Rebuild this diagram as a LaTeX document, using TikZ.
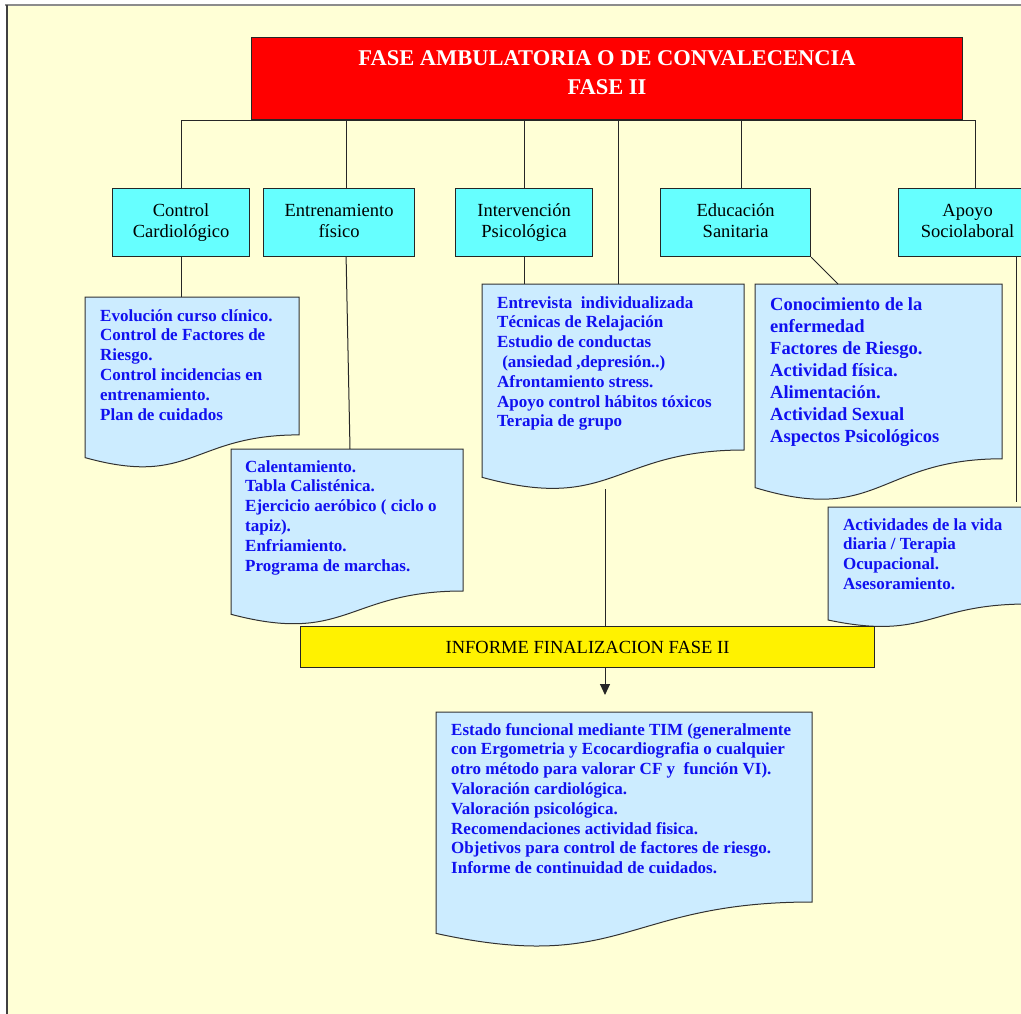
\documentclass[tikz,border=0pt]{standalone}
\usepackage{fontspec}
\setmainfont{Liberation Serif}
\usetikzlibrary{arrows.meta}
\definecolor{bgyel}{RGB}{255,255,214}
\definecolor{docblue}{RGB}{204,236,255}
\definecolor{cyanfill}{RGB}{102,255,255}
\definecolor{txtblue}{RGB}{16,16,240}
\definecolor{edgegray}{RGB}{50,50,50}
\tikzset{
  conn/.style={draw=black!85, line width=1pt},
  docshape/.style={fill=docblue, draw=edgegray, line width=1pt},
  frame/.style={inner sep=0pt, outer sep=0pt, draw=none, anchor=north west},
  doctext/.style={inner sep=0pt, anchor=north west, align=left, text=txtblue,
    font=\bfseries\fontsize{17}{19.8}\selectfont},
  cyanbox/.style={fill=cyanfill, draw=black!85, line width=1.2pt, inner sep=0pt,
    anchor=north west, minimum height=68pt, align=center,
    font=\fontsize{18.5}{21}\selectfont},
}
\begin{document}
\begin{tikzpicture}[x=1pt,y=-1pt]
\useasboundingbox (0,0) rectangle (1021,1014);
\clip (0,0) rectangle (1021,1014);
% page
\fill[white] (0,0) rectangle (1021,1014);
\fill[bgyel] (7,5) rectangle (1021,1014);
\draw[black!45, line width=1.5pt] (5,5) -- (1021,5);
\draw[black!75, line width=1.6pt] (7,5) -- (7,1014);

% title
\node[fill=red, draw=black!85, line width=1.4pt, inner sep=0pt, anchor=north west,
      minimum width=711pt, minimum height=82pt] (title) at (251,37) {};
\node[inner sep=0pt, anchor=north, align=center, text=white,
      font=\bfseries\fontsize{22.5}{29}\selectfont] (titletxt) at (607,50.6)
      {FASE AMBULATORIA O DE CONVALECENCIA\\FASE II};

% cyan boxes
\node[cyanbox, minimum width=137pt] (cc) at (112,188) {\strut Control\\Cardiológico\strut};
\node[cyanbox, minimum width=151pt] (ef) at (263,188) {\strut Entrenamiento\\físico\strut};
\node[cyanbox, minimum width=137pt] (ip) at (455,188) {\strut Intervención\\Psicológica\strut};
\node[cyanbox, minimum width=150pt] (es) at (660,188) {\strut Educación\\Sanitaria\strut};
\node[cyanbox, minimum width=138pt] (as) at (898,188) {\strut Apoyo\\Sociolaboral\strut};

% document shapes
\draw[docshape] (85,297) -- (299,297) -- (299,434.9) .. controls (192,434.9) and (192,487.5) .. (85,457.6) -- cycle;
\node[frame, minimum width=214pt, minimum height=138pt] (ccdoc) at (85,297) {};
\draw[docshape] (231,449) -- (463,449) -- (463,591) .. controls (347,591) and (347,645) .. (231,614.3) -- cycle;
\node[frame, minimum width=232pt, minimum height=142pt] (efdoc) at (231,449) {};
\draw[docshape] (482,284) -- (744,284) -- (744,450) .. controls (613,450) and (613,513.3) .. (482,477.3) -- cycle;
\node[frame, minimum width=262pt, minimum height=166pt] (ipdoc) at (482,284) {};
\draw[docshape] (755,284) -- (1002,284) -- (1002,458.8) .. controls (878.5,458.8) and (878.5,525.4) .. (755,487.6) -- cycle;
\node[frame, minimum width=247pt, minimum height=175pt] (esdoc) at (755,284) {};
\draw[docshape] (828,507) -- (1028,507) -- (1028,604) .. controls (928,604) and (928,641) .. (828,620) -- cycle;
\node[frame, minimum width=200pt, minimum height=97pt] (asdoc) at (828,507) {};
\draw[docshape] (436,712) -- (812,712) -- (812,902) .. controls (624,902) and (624,974.5) .. (436,933.4) -- cycle;
\node[frame, minimum width=376pt, minimum height=190pt] (findoc) at (436,712) {};

% texts of documents
\node[doctext] (cctext) at (100,307) {\strut Evolución curso clínico.\\Control de Factores de\\Riesgo.\\Control incidencias en\\entrenamiento.\\Plan de cuidados};
\node[doctext] (eftext) at (245,458) {\strut Calentamiento.\\Tabla Calisténica.\\Ejercicio aeróbico ( ciclo o\\tapiz).\\Enfriamiento.\\Programa de marchas.};
\node[doctext] (iptext) at (497,294) {\strut Entrevista\ \ individualizada\\Técnicas de Relajación\\Estudio de conductas\\\hspace*{0.3em}(ansiedad ,depresión..)\\Afrontamiento stress.\\Apoyo control hábitos tóxicos\\Terapia de grupo};
\node[doctext, font=\bfseries\fontsize{18.5}{22}\selectfont] (estext) at (770,294.6) {\strut Conocimiento de la\\enfermedad\\Factores de Riesgo.\\Actividad física.\\Alimentación.\\Actividad Sexual\\Aspectos Psicológicos};
\node[doctext] (astext) at (843,516) {\strut Actividades de la vida\\diaria / Terapia\\Ocupacional.\\Asesoramiento.};
\node[doctext] (fintext) at (451,721) {\strut Estado funcional mediante TIM (generalmente\\con Ergometria y Ecocardiografia o cualquier\\otro método para valorar CF y\ \ función VI).\\Valoración cardiológica.\\Valoración psicológica.\\Recomendaciones actividad fisica.\\Objetivos para control de factores de riesgo.\\Informe de continuidad de cuidados.};

% informe
\node[fill=yellow, draw=black!85, line width=1.2pt, inner sep=0pt, anchor=north west,
      minimum width=574pt, minimum height=41pt, font=\fontsize{18.5}{21}\selectfont]
      (inf) at (300,626) {INFORME FINALIZACION FASE II};

% connectors: bus
\draw[conn] (cc.north |- title.south) -- ([xshift=8pt]as.north |- title.south);
\draw[conn] (cc.north) -- (cc.north |- title.south);
\draw[conn] ([xshift=7.5pt]ef.north) -- ([xshift=7.5pt]ef.north |- title.south);
\draw[conn] (ip.north) -- (ip.north |- title.south);
\draw[conn] ([xshift=5pt]ipdoc.north) -- ([xshift=5pt]ipdoc.north |- title.south);
\draw[conn] ([xshift=6pt]es.north) -- ([xshift=6pt]es.north |- title.south);
\draw[conn] ([xshift=8pt]as.north) -- ([xshift=8pt]as.north |- title.south);

% connectors: boxes to documents
\draw[conn] (cc.south) -- (cc.south |- ccdoc.north);
\draw[conn] ([xshift=7pt]ef.south) -- ([xshift=3pt]efdoc.north);
\draw[conn] (ip.south) -- (ip.south |- ipdoc.north);
\draw[conn] (es.south east) -- ([xshift=83pt]esdoc.north west);
\draw[conn] ([xshift=49pt]as.south) -- ([xshift=49pt,yshift=5pt]as.south |- asdoc.north);

% to informe and arrow
\coordinate (ipout) at (605,489);
\coordinate (arrtip) at (605,695);
\draw[conn] (ipout) -- (ipout |- inf.north);
\draw[conn, -{Triangle[width=10pt,length=11pt]}] (arrtip |- inf.south) -- (arrtip);
\end{tikzpicture}
\end{document}
